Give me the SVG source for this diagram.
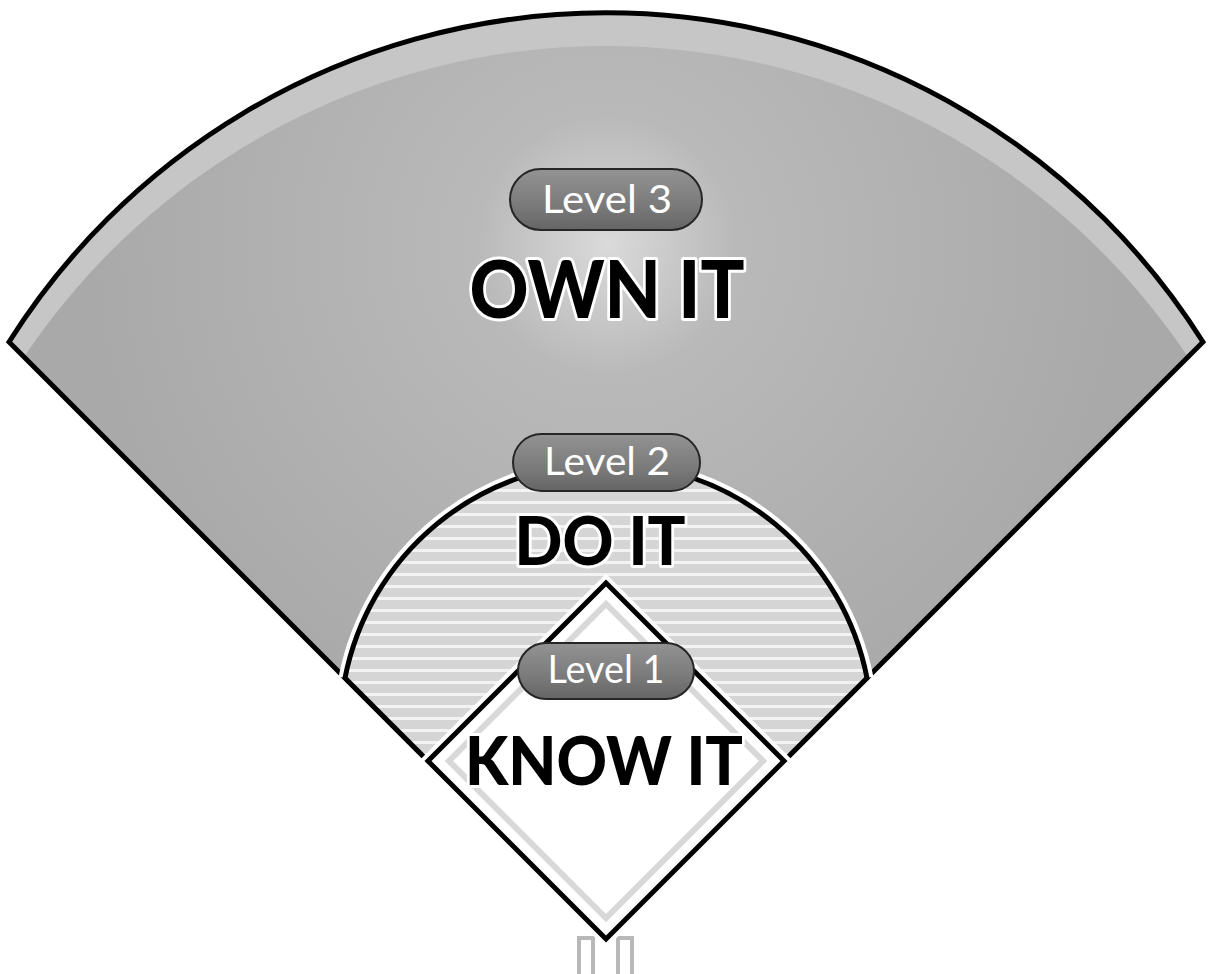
<svg xmlns="http://www.w3.org/2000/svg" width="1209" height="974" viewBox="0 0 1209 974">
<defs>
  <radialGradient id="glow" gradientUnits="userSpaceOnUse" cx="607" cy="245" r="520">
    <stop offset="0" stop-color="#dadada"/>
    <stop offset="0.25" stop-color="#b9b9b9"/>
    <stop offset="1" stop-color="#a9a9a9"/>
  </radialGradient>
  <linearGradient id="pill" x1="0" y1="0" x2="0" y2="1">
    <stop offset="0" stop-color="#939393"/>
    <stop offset="0.6" stop-color="#7a7a7a"/>
    <stop offset="1" stop-color="#656565"/>
  </linearGradient>
  <pattern id="stripes" patternUnits="userSpaceOnUse" width="12" height="12">
    <rect width="12" height="12" fill="#d5d5d5"/>
    <rect y="9" width="12" height="3" fill="#f3f3f3"/>
  </pattern>
  <style>
    .out{fill:none;stroke:#000;stroke-width:5;stroke-linejoin:miter}
    .halo{fill:none;stroke:#fff;stroke-width:13;stroke-linejoin:miter}
    .pill{fill:url(#pill);stroke:#262626;stroke-width:2}
    .lvl{font-family:Lato,"Liberation Sans",sans-serif;font-size:38px;fill:#fff;text-anchor:middle}
    .title{font-family:Lato,"Liberation Sans",sans-serif;font-weight:900;fill:#000;text-anchor:middle;stroke:#fff;stroke-width:6;stroke-linejoin:round;paint-order:stroke}
    .home{fill:#fff;stroke:#b8b8b8;stroke-width:4}
  </style>
</defs>
<rect width="1209" height="974" fill="#fff"/>
<g id="home">
  <rect class="home" x="579" y="938" width="14" height="40"/>
  <rect class="home" x="618" y="938" width="14" height="40"/>
</g>
<g id="level3">
  <path class="halo" d="M606 939 L9 342 A706 706 0 0 1 1203 342 Z"/>
  <path d="M606 939 L9 342 A706 706 0 0 1 1203 342 Z" fill="#c6c6c6"/>
  <path d="M606 939 L24 357 A700 700 0 0 1 1188 357 Z" fill="url(#glow)"/>
  <path class="out" d="M606 939 L9 342 A706 706 0 0 1 1203 342 Z"/>
</g>
<g id="level2">
  <path class="halo" d="M345 678 A266 266 0 0 1 867 678"/>
  <path d="M345 678 A266 266 0 0 1 867 678 L606 939 Z" fill="url(#stripes)"/>
  <path class="out" d="M345 678 A266 266 0 0 1 867 678 L606 939 Z"/>
</g>
<g id="level1">
  <path class="halo" d="M606 583 L784 761 L606 939 L428 761 Z"/>
  <path d="M606 583 L784 761 L606 939 L428 761 Z" fill="#fff"/>
  <path d="M606 604 L763 761 L606 918 L449 761 Z" fill="none" stroke="#d8d8d8" stroke-width="6"/>
  <path class="out" d="M606 583 L784 761 L606 939 L428 761 Z"/>
</g>
<g id="connectors"/>
<g id="label3">
  <rect class="pill" x="510" y="169" width="192" height="61" rx="30.5"/>
  <text class="lvl" x="607" y="213" textLength="130" lengthAdjust="spacingAndGlyphs">Level 3</text>
  <text class="title" x="607" y="318" font-size="80" textLength="275" lengthAdjust="spacingAndGlyphs">OWN IT</text>
</g>
<g id="label2">
  <rect class="pill" x="513" y="434" width="187" height="57" rx="28.5"/>
  <text class="lvl" x="607" y="475" textLength="126" lengthAdjust="spacingAndGlyphs">Level 2</text>
  <text class="title" x="600" y="565" font-size="67" textLength="171" lengthAdjust="spacingAndGlyphs">DO IT</text>
</g>
<g id="label1">
  <rect class="pill" x="518" y="643" width="176" height="56" rx="28"/>
  <text class="lvl" x="606" y="683" textLength="117" lengthAdjust="spacingAndGlyphs">Level 1</text>
  <text class="title" x="604" y="785" font-size="66" textLength="278" lengthAdjust="spacingAndGlyphs">KNOW IT</text>
</g>
</svg>
